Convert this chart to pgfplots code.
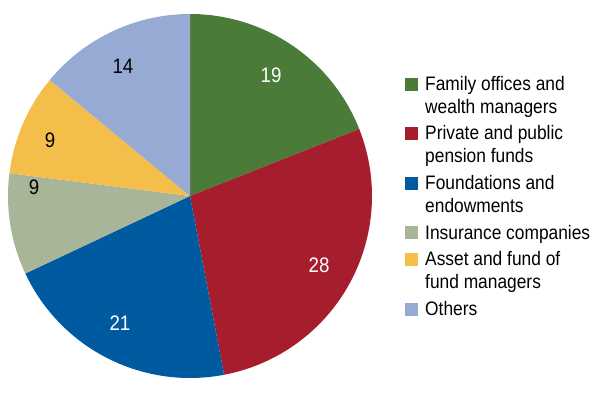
\documentclass[border=0pt]{standalone}
\usepackage{fontspec}
\setmainfont{Liberation Sans}[FakeStretch=0.89]
\usepackage{pgfplots}
\pgfplotsset{compat=1.18}
\definecolor{cA}{RGB}{74,123,56}
\definecolor{cB}{RGB}{166,30,45}
\definecolor{cC}{RGB}{0,90,160}
\definecolor{cD}{RGB}{168,181,152}
\definecolor{cE}{RGB}{243,190,74}
\definecolor{cF}{RGB}{151,170,212}
% shares (per cent)
\def\vA{19}\def\vB{28}\def\vC{21}\def\vD{9}\def\vE{9}\def\vF{14}
\begin{document}
\begin{tikzpicture}
\useasboundingbox (0,0) rectangle (599pt,394pt);
\pgfmathsetmacro\aA{90}
\pgfmathsetmacro\aB{\aA-3.6*\vA}
\pgfmathsetmacro\aC{\aB-3.6*\vB}
\pgfmathsetmacro\aD{\aC-3.6*\vC}
\pgfmathsetmacro\aE{\aD-3.6*\vD}
\pgfmathsetmacro\aF{\aE-3.6*\vE}
\pgfmathsetmacro\aG{\aF-3.6*\vF}
\begin{axis}[
  width=599pt, height=394pt, scale only axis, hide axis,
  xmin=0, xmax=599, ymin=0, ymax=394, clip=false,
  samples=90,
  legend style={at={(axis cs:405,320)}, anchor=north west, draw=none, fill=none,
    font=\fontsize{19.5}{23}\selectfont, inner sep=0pt,
    cells={align=left, anchor=west}, row sep=7pt, column sep=5pt},
  legend image code/.code={\fill[#1] (0pt,-6.5pt) rectangle (13pt,6.5pt);},
  twoline/.style={legend image code/.code={\fill[##1] (0pt,5pt) rectangle (13pt,18pt);}},
]
\addplot[draw=none, fill=cA, domain=\aB:\aA, twoline] ({190+182*cos(x)},{198+182*sin(x)}) -- (axis cs:190,198) -- cycle;
\addlegendentry{Family offices and\\wealth managers}
\addplot[draw=none, fill=cB, domain=\aC:\aB, twoline] ({190+182*cos(x)},{198+182*sin(x)}) -- (axis cs:190,198) -- cycle;
\addlegendentry{Private and public\\pension funds}
\addplot[draw=none, fill=cC, domain=\aD:\aC, twoline] ({190+182*cos(x)},{198+182*sin(x)}) -- (axis cs:190,198) -- cycle;
\addlegendentry{Foundations and\\endowments}
\addplot[draw=none, fill=cD, domain=\aE:\aD] ({190+182*cos(x)},{198+182*sin(x)}) -- (axis cs:190,198) -- cycle;
\addlegendentry{Insurance companies}
\addplot[draw=none, fill=cE, domain=\aF:\aE, twoline] ({190+182*cos(x)},{198+182*sin(x)}) -- (axis cs:190,198) -- cycle;
\addlegendentry{Asset and fund of\\fund managers}
\addplot[draw=none, fill=cF, domain=\aG:\aF] ({190+182*cos(x)},{198+182*sin(x)}) -- (axis cs:190,198) -- cycle;
\addlegendentry{Others}
\begin{scope}[every node/.style={font=\fontsize{21}{24}\selectfont}]
\node[text=white] at (axis cs:271,319) {\vA};
\node[text=white] at (axis cs:319,129) {\vB};
\node[text=white] at (axis cs:120,71) {\vC};
\node[text=black] at (axis cs:34,207) {\vD};
\node[text=black] at (axis cs:50,254) {\vE};
\node[text=black] at (axis cs:123,328) {\vF};
\end{scope}
\end{axis}
\end{tikzpicture}
\end{document}
